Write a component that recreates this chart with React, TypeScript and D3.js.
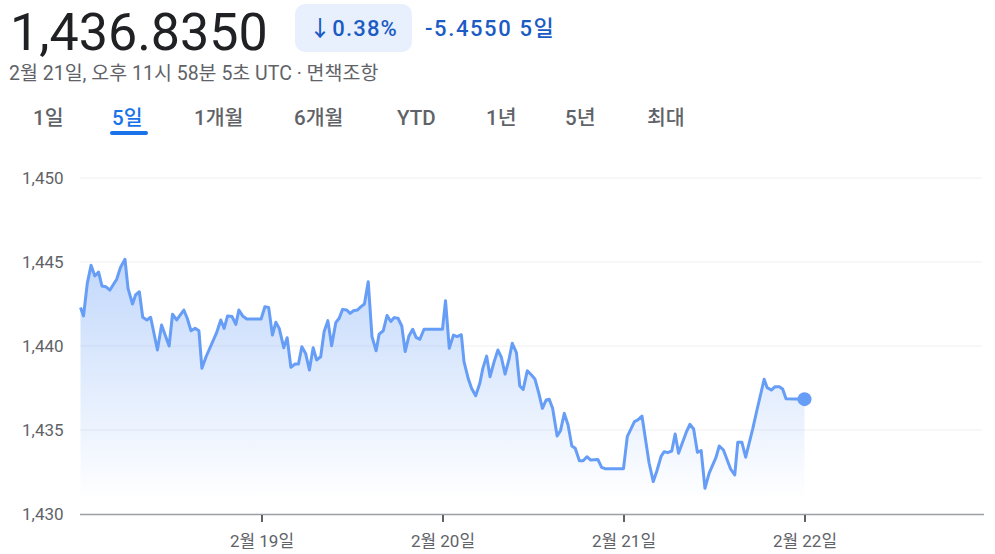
import React from "react";
import * as d3 from "d3";

// hours since 2/18 00:00 and rate values
const hours = [0, 0.4, 0.9, 1.4, 1.9, 2.4, 2.85, 3.35, 3.9, 4.8, 5.3, 5.9, 6.3, 6.9, 7.3, 7.8, 8.25, 8.8, 9.3, 10.2, 10.75, 11.75, 12.2, 12.75, 13.7, 14.15, 14.65, 15.2, 15.7, 16.1, 16.65, 18.05, 18.6, 19.05, 19.5, 20.1, 20.6, 21.0, 21.5, 22.05, 23.95, 24.45, 24.95, 25.45, 25.9, 26.35, 26.95, 27.4, 27.9, 28.45, 28.9, 29.35, 29.85, 30.35, 30.85, 31.3, 31.85, 32.3, 32.8, 33.3, 33.85, 34.3, 34.75, 35.3, 35.75, 36.2, 36.7, 37.2, 37.65, 38.15, 38.65, 39.2, 39.6, 40.15, 40.65, 41.15, 41.6, 42.1, 42.6, 43.05, 43.55, 44.05, 44.5, 45.0, 45.55, 48.0, 48.4, 48.9, 49.45, 49.95, 50.5, 50.85, 51.4, 51.85, 52.4, 52.95, 53.35, 53.85, 54.3, 54.85, 55.35, 55.8, 56.3, 56.8, 57.25, 57.8, 58.25, 58.7, 59.25, 59.8, 60.25, 60.75, 61.25, 61.75, 62.15, 62.6, 63.2, 63.65, 64.15, 64.65, 65.15, 65.6, 66.15, 66.65, 67.15, 67.65, 68.6, 69.1, 69.55, 72.0, 72.5, 73.45, 73.9, 74.45, 75.4, 75.95, 76.4, 77.0, 77.4, 77.85, 78.4, 78.85, 79.3, 80.3, 80.8, 81.3, 81.8, 82.3, 82.8, 83.35, 84.25, 84.7, 85.25, 86.2, 86.75, 87.15, 87.7, 88.2, 89.15, 89.65, 90.65, 91.05, 91.6, 92.1, 92.65, 93.1, 93.55, 96.0];
const values = [1442.29, 1441.79, 1443.73, 1444.8, 1444.17, 1444.4, 1443.57, 1443.53, 1443.33, 1443.97, 1444.68, 1445.16, 1443.43, 1442.5, 1443.04, 1443.23, 1441.71, 1441.55, 1441.71, 1439.76, 1441.25, 1440.0, 1441.89, 1441.55, 1442.14, 1441.65, 1440.91, 1441.05, 1440.91, 1438.67, 1439.36, 1440.79, 1441.55, 1441.05, 1441.79, 1441.75, 1441.29, 1442.14, 1441.79, 1441.61, 1441.61, 1442.34, 1442.3, 1440.65, 1441.41, 1441.05, 1439.9, 1440.49, 1438.73, 1438.93, 1438.93, 1439.96, 1439.56, 1438.57, 1439.9, 1439.17, 1439.36, 1440.85, 1441.51, 1440.02, 1441.39, 1441.65, 1442.18, 1442.14, 1441.94, 1442.1, 1442.14, 1442.34, 1442.5, 1443.83, 1440.56, 1439.72, 1440.71, 1440.91, 1441.82, 1441.46, 1441.69, 1441.65, 1441.19, 1439.67, 1440.6, 1441.0, 1440.51, 1440.4, 1441.0, 1441.0, 1442.7, 1439.86, 1440.65, 1440.56, 1440.67, 1439.07, 1438.08, 1437.48, 1437.04, 1437.78, 1438.67, 1439.4, 1438.17, 1439.07, 1439.76, 1439.33, 1438.33, 1439.17, 1440.16, 1439.6, 1437.62, 1437.42, 1438.53, 1438.27, 1438.04, 1437.22, 1436.29, 1436.79, 1436.83, 1436.29, 1434.64, 1434.96, 1435.99, 1435.3, 1434.05, 1433.91, 1433.17, 1433.17, 1433.41, 1433.21, 1433.25, 1432.78, 1432.7, 1432.7, 1434.6, 1435.5, 1435.6, 1435.83, 1433.02, 1431.93, 1432.53, 1433.45, 1433.71, 1433.65, 1433.75, 1434.76, 1433.61, 1434.84, 1435.34, 1435.06, 1433.67, 1433.77, 1431.53, 1432.42, 1433.35, 1434.05, 1433.81, 1432.68, 1432.32, 1434.27, 1434.27, 1433.38, 1435.1, 1436.1, 1438.02, 1437.52, 1437.38, 1437.58, 1437.58, 1437.44, 1436.86, 1436.835];

const yTicks = [1430, 1435, 1440, 1445, 1450];
const xTickDays = [19, 20, 21, 22];
const xTickLabels = ["2월 19일", "2월 20일", "2월 21일", "2월 22일"];
const tabs = ["1일", "5일", "1개월", "6개월", "YTD", "1년", "5년", "최대"];
const tabX = [33, 112, 194, 294, 397, 486, 565, 647];

const FONT = "Roboto, 'Noto Sans CJK KR', sans-serif";

export default function App() {
  const W = 995, H = 554;
  const start = new Date(2025, 1, 18).getTime();
  const x = d3.scaleTime().domain([new Date(2025, 1, 18), new Date(2025, 1, 23)]).range([80.5, 985.5]);
  const y = d3.scaleLinear().domain([1430, 1450]).range([514, 178]);
  const data = hours.map((h, i) => ({ t: new Date(start + h * 3600e3), v: values[i] }));
  const line = d3.line<any>().x(d => x(d.t)).y(d => y(d.v));
  const area = d3.area<any>().x(d => x(d.t)).y0(y(1430)).y1(d => y(d.v));
  const last = data[data.length - 1];
  const plotL = 80, plotR = 982;
  const topY = y(d3.max(values) as number);

  return (
    <svg width={W} height={H} style={{ position: "absolute", left: 0, top: 0, fontFamily: FONT }}>
      <defs>
        <linearGradient id="fillg" gradientUnits="userSpaceOnUse" x1="0" x2="0" y1={topY} y2={500}>
          <stop offset="0%" stopColor="#669df6" stopOpacity={0.4} />
          <stop offset="100%" stopColor="#669df6" stopOpacity={0} />
        </linearGradient>
      </defs>
      <rect width={W} height={H} fill="#fff" />
      {/* header */}
      <text x={10} y={50} fontSize={52} fill="#202124" fontFamily={FONT}>1,436.8350</text>
      <rect x={295} y={4} width={117} height={48} rx={10} fill="#e8f0fe" />
      <text x={309} y={36} fontSize={22} fontWeight={500} fill="#1a5bc4" letterSpacing={1.2}>↓0.38%</text>
      <text x={425} y={36} fontSize={22} fontWeight={500} fill="#1a5bc4" letterSpacing={1.6}>-5.4550 5일</text>
      <text x={9} y={80} fontSize={19.5} fill="#5f6368">2월 21일, 오후 11시 58분 5초 UTC · 면책조항</text>
      {tabs.map((t, i) => (
        <text key={t} x={tabX[i]} y={125} fontSize={20.5} fontWeight={500} fill={i === 1 ? "#1a73e8" : "#5f6368"}>{t}</text>
      ))}
      <rect x={110} y={131} width={38} height={4} rx={2} fill="#1a73e8" />
      {/* grid */}
      {yTicks.map(v => (
        <g key={v}>
          {v !== 1430 && <line x1={plotL} x2={plotR} y1={y(v)} y2={y(v)} stroke="#eeeff1" strokeWidth={1} />}
          <text x={22} y={y(v)} dy="0.35em" fontSize={17} fill="#5f6368">{d3.format(",")(v)}</text>
        </g>
      ))}
      <path d={area(data) as string} fill="url(#fillg)" />
      <path d={line(data) as string} fill="none" stroke="#669df6" strokeWidth={3} strokeLinejoin="round" />
      <circle cx={x(last.t)} cy={y(last.v)} r={7} fill="#669df6" />
      {/* x axis */}
      <line x1={plotL} x2={984} y1={514.5} y2={514.5} stroke="#9aa0a6" strokeWidth={1.5} />
      {xTickDays.map((d, i) => {
        const px = Math.round(x(new Date(2025, 1, d)));
        return (
          <g key={d}>
            <line x1={px} x2={px} y1={515} y2={522} stroke="#5f6368" strokeWidth={2} />
            <text x={px} y={547} textAnchor="middle" fontSize={17} fill="#5f6368">{xTickLabels[i]}</text>
          </g>
        );
      })}
    </svg>
  );
}
